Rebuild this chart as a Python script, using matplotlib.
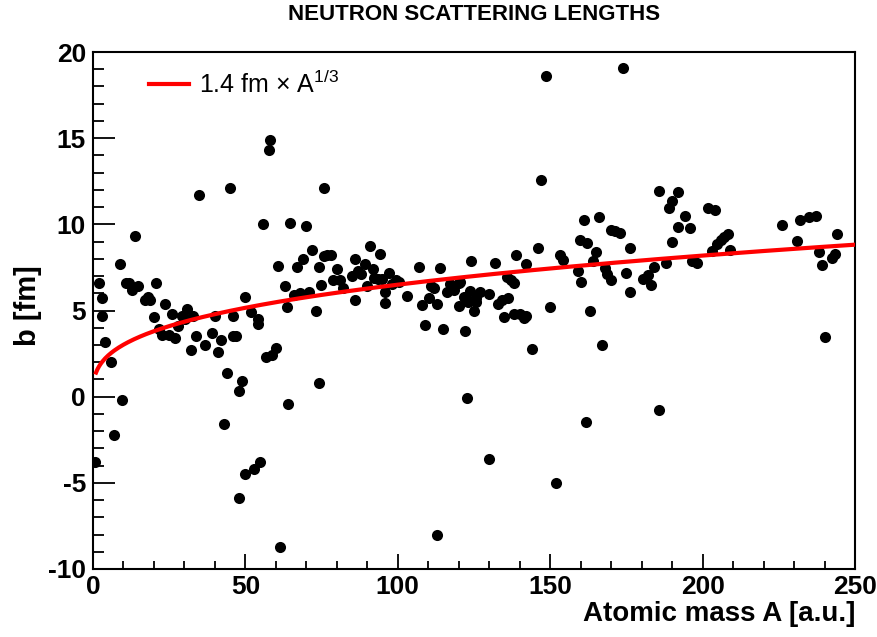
import numpy as np
import matplotlib
matplotlib.use('Agg')
import matplotlib.pyplot as plt
from matplotlib.ticker import MultipleLocator

# atomic mass A and scattering length b [fm]
mass = [0.7, 1.9, 3.0, 3.0, 3.8, 5.8, 6.9, 8.8, 9.6, 10.7, 11.9, 12.7, 13.8, 14.9,
        17.0, 18.1, 18.8, 19.9, 20.8, 21.7, 22.7, 23.7, 24.9, 25.8, 27.0, 27.8,
        29.3, 30.2, 30.8, 32.0, 32.9, 33.7, 34.9, 36.8, 39.0, 40.0, 40.9, 41.9,
        42.9, 43.8, 44.9, 45.8, 45.9, 47.0, 47.9, 48.0, 48.8, 49.8, 49.9, 51.8,
        52.8, 54.0, 54.0, 54.9, 55.8, 56.9, 57.8, 58.1, 58.6, 59.9, 60.8, 61.2,
        62.9, 63.8, 63.9, 64.7, 65.8, 66.9, 67.9, 69.0, 69.9, 70.9, 71.8, 73.0,
        74.0, 74.0, 74.9, 75.9, 75.9, 76.7, 78.0, 78.9, 80.0, 81.1, 82.0, 84.9,
        85.9, 86.0, 87.1, 87.9, 89.1, 90.0, 91.0, 91.8, 92.1, 93.4, 94.1, 94.8,
        95.9, 95.9, 97.0, 98.1, 99.5, 100.3, 102.9, 106.9, 107.9, 108.8, 110.1,
        110.9, 112.0, 113.0, 113.0, 114.0, 114.8, 116.1, 117.2, 118.3, 120.0,
        120.0, 120.5, 121.6, 121.9, 122.7, 122.7, 123.0, 124.0, 123.8, 124.9,
        125.5, 125.8, 127.1, 129.8, 130.0, 132.0, 132.9, 134.2, 134.9, 135.9,
        136.2, 137.0, 138.0, 138.0, 138.9, 140.2, 141.3, 142.0, 142.1, 143.9,
        146.0, 146.9, 148.5, 149.8, 152.0, 153.2, 154.3, 159.0, 159.9, 160.1,
        161.0, 161.9, 162.1, 163.0, 164.1, 165.0, 166.0, 167.0, 167.9, 168.7,
        170.0, 170.1, 171.4, 172.8, 174.0, 175.0, 176.1, 176.1, 180.5, 182.0,
        183.1, 184.0, 185.6, 185.6, 188.0, 189.0, 190.1, 190.1, 192.0, 192.0,
        194.2, 196.0, 196.6, 198.2, 201.8, 203.2, 204.0, 204.8, 205.9, 207.0,
        208.2, 209.0, 226.2, 231.0, 232.0, 235.0, 237.3, 238.2, 239.1, 240.1,
        242.4, 243.5, 244.0]
b_fm = [-3.8, 6.6, 5.7, 4.7, 3.2, 2.0, -2.2, 7.7, -0.2, 6.6, 6.6, 6.2, 9.3, 6.4,
        5.6, 5.8, 5.6, 4.6, 6.6, 3.9, 3.6, 5.4, 3.6, 4.8, 3.4, 4.1,
        4.7, 4.5, 5.1, 2.7, 4.7, 3.5, 11.7, 3.0, 3.7, 4.7, 2.6, 3.3,
        -1.6, 1.4, 12.1, 3.5, 4.7, 3.5, -5.9, 0.3, 0.9, 5.8, -4.5, 4.9,
        -4.2, 4.5, 4.2, -3.8, 10.0, 2.3, 14.3, 14.9, 2.4, 2.8, 7.6, -8.7,
        6.4, 5.2, -0.4, 10.1, 5.9, 7.5, 6.0, 8.0, 9.9, 6.1, 8.5, 5.0,
        7.5, 0.8, 6.5, 12.1, 8.15, 8.2, 8.2, 6.75, 7.4, 6.75, 6.3, 7.0,
        5.6, 8.0, 7.3, 7.1, 7.7, 6.4, 8.75, 7.4, 6.9, 6.85, 8.25, 6.85,
        6.1, 5.45, 7.2, 6.55, 6.75, 6.65, 5.85, 7.5, 5.3, 4.15, 5.75,
        6.45, 6.3, 5.35, -8.0, 7.45, 3.95, 6.1, 6.55, 6.2, 6.6,
        5.25, 6.65, 5.8, 3.8, 5.6, -0.1, 5.5, 7.9, 6.15, 5.0,
        5.5, 5.7, 6.1, 5.95, -3.6, 7.75, 5.35, 5.6, 4.6, 6.95,
        5.7, 6.75, 6.6, 4.8, 8.2, 4.8, 4.55, 7.7, 4.7, 2.75,
        8.65, 12.55, 18.6, 5.2, -5.0, 8.2, 7.95, 7.3, 9.1, 6.65,
        10.25, -1.45, 8.9, 4.95, 7.9, 8.4, 10.45, 3.0, 7.45, 7.1,
        6.75, 9.65, 9.6, 9.5, 19.1, 7.2, 6.05, 8.65, 6.85, 7.05,
        6.5, 7.5, 11.95, -0.8, 7.75, 10.95, 11.35, 8.95, 11.85, 9.85,
        10.5, 9.8, 7.9, 7.75, 10.95, 8.45, 10.85, 8.85, 9.1, 9.25,
        9.45, 8.5, 9.95, 9.05, 10.25, 10.4, 10.5, 8.4, 7.65, 3.45,
        8.05, 8.25, 9.45]

r0 = 1.4
a_curve = np.linspace(1, 250, 500)

plt.rcParams['font.family'] = ['Liberation Sans', 'DejaVu Sans']
plt.rcParams['mathtext.fontset'] = 'custom'
plt.rcParams['mathtext.rm'] = 'Liberation Sans'
plt.rcParams['mathtext.it'] = 'Liberation Sans'
plt.rcParams['axes.unicode_minus'] = False

fig = plt.figure(figsize=(8.78, 6.37), dpi=100)
ax = fig.add_axes([93/878, 1-569/637, 762/878, 517/637])

ax.plot(mass, b_fm, 'o', color='black', markersize=8, markeredgewidth=0, zorder=2)
ax.plot(a_curve, r0*a_curve**(1/3), '-', color='red', linewidth=3,
        label=r'1.4 fm $\times$ A$^{1/3}$', zorder=3)

ax.set_xlim(0, 250)
ax.set_ylim(-10, 20)
ax.xaxis.set_major_locator(MultipleLocator(50))
ax.xaxis.set_minor_locator(MultipleLocator(10))
ax.yaxis.set_major_locator(MultipleLocator(5))
ax.yaxis.set_minor_locator(MultipleLocator(1))
ax.tick_params(axis='y', which='major', direction='in', length=16, width=1.3, labelsize=19, pad=5)
ax.tick_params(axis='y', which='minor', direction='in', length=8, width=1.3)
ax.tick_params(axis='x', which='major', direction='in', length=11, width=1.3, labelsize=19, pad=4)
ax.tick_params(axis='x', which='minor', direction='in', length=6, width=1.3)
for lab in ax.get_xticklabels() + ax.get_yticklabels():
  lab.set_fontweight('bold')
for s in ax.spines.values():
  s.set_linewidth(1.5)

ax.legend(loc='center left', bbox_to_anchor=(0.074, 0.938), frameon=False,
          fontsize=18, handlelength=1.6, handletextpad=0.4,
          borderpad=0, borderaxespad=0)

fig.text(474/878, 1-15/637, 'NEUTRON SCATTERING LENGTHS', ha='center', va='center',
         fontsize=16, fontweight='bold')
fig.text(855/878, 1-614/637, 'Atomic mass A [a.u.]', ha='right', va='center',
         fontsize=20, fontweight='bold')
fig.text(28/878, 1-306/637, 'b [fm]', ha='center', va='center', rotation=90,
         fontsize=21, fontweight='bold')

plt.savefig('out.png', dpi=100)
